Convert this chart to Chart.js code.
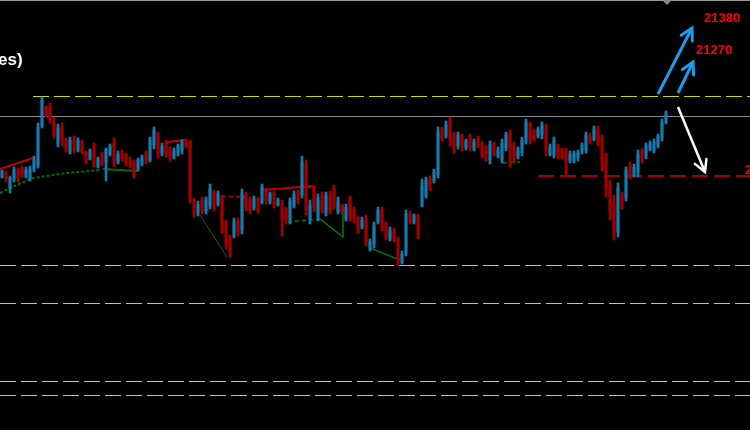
<!DOCTYPE html>
<html>
<head>
<meta charset="utf-8">
<script src="https://cdn.jsdelivr.net/npm/chart.js@4.4.1/dist/chart.umd.min.js"></script>
<style>
html, body { margin: 0; padding: 0; background: #000; overflow: hidden; }
canvas { display: block; }
</style>
</head>
<body>
<canvas id="chart" width="750" height="430"></canvas>
<script>
// candles, one per bar
const opens = [
  21046,21054,21024,21040,21060,21064,21046,21042,21060,21070,
  21148,21184,21188,21162,21112,21144,21122,21096,21120,21100,
  21114,21096,21082,21108,21068,21092,21076,21092,21116,21076,
  21096,21090,21080,21074,21062,21072,21094,21080,21110,21132,
  21092,21116,21102,21086,21092,21100,21118,21116,21000,20974,
  21000,20978,20988,21016,20992,21006,20956,20924,20928,20958,
  20940,21012,21000,20984,21002,20996,21020,20996,21014,20990,
  20994,20982,20960,20988,21016,21010,21070,20960,21022,20964,
  21010,20974,21012,21026,20976,20988,20962,21002,20982,20964,
  20946,20964,20902,20912,20956,20982,20952,20922,20938,20920,
  20876,20894,20974,20956,20968,20988,21008,21042,21038,21050,
  21142,21128,21158,21130,21108,21128,21104,21128,21102,21122,
  21112,21106,21080,21112,21088,21080,21104,21134,21110,21086,
  21094,21116,21152,21138,21128,21132,21146,21092,21090,21108,
  21100,21098,21078,21078,21084,21096,21100,21128,21122,21144,
  21126,21088,21034,20990,20936,21010,21004,21070,21050,21056,
  21098,21088,21102,21098,21108,21124,21156
]
const highs = [
  21060,21058,21048,21066,21064,21068,21066,21068,21088,21154,
  21206,21188,21194,21166,21152,21154,21124,21126,21128,21124,
  21120,21098,21102,21114,21086,21096,21104,21112,21124,21098,
  21100,21094,21086,21080,21084,21090,21098,21126,21146,21136,
  21114,21120,21106,21104,21112,21120,21122,21120,21004,20998,
  21006,21006,21032,21020,21018,21010,20960,20930,20964,20964,
  21022,21016,21006,21008,21006,21032,21024,21016,21018,21004,
  21000,20986,21004,21018,21020,21088,21080,21000,21028,21012,
  21016,21016,21018,21030,21006,20992,20992,21008,20986,20968,
  20966,20970,20922,20956,20986,20986,20956,20946,20944,20926,
  20898,20980,20978,20972,20972,21042,21046,21048,21062,21146,
  21146,21158,21166,21136,21136,21132,21122,21132,21122,21128,
  21118,21110,21118,21116,21106,21122,21136,21140,21116,21106,
  21126,21162,21156,21142,21146,21156,21152,21112,21126,21112,
  21104,21104,21098,21098,21100,21114,21136,21134,21148,21148,
  21130,21094,21040,21010,21034,21016,21066,21076,21072,21100,
  21104,21114,21118,21122,21132,21162,21178
]
const lows = [
  21044,21036,21014,21036,21036,21046,21044,21038,21056,21064,
  21144,21166,21154,21124,21106,21108,21096,21092,21094,21096,
  21092,21072,21080,21066,21064,21068,21038,21088,21066,21072,
  21078,21068,21064,21044,21058,21068,21072,21076,21102,21084,
  21088,21086,21078,21082,21088,21092,21104,20994,20966,20968,
  20972,20972,20982,20978,20988,20934,20902,20886,20924,20928,
  20932,20978,20972,20980,20974,20992,20992,20992,20984,20988,
  20928,20952,20952,20984,20992,21004,20970,20952,20976,20958,
  20974,20968,20972,20982,20972,20972,20958,20958,20954,20934,
  20942,20908,20898,20904,20952,20938,20920,20918,20916,20868,
  20872,20888,20952,20952,20922,20986,21004,21018,21034,21044,
  21118,21124,21108,21094,21102,21098,21100,21098,21098,21104,
  21084,21078,21072,21088,21084,21074,21098,21066,21074,21082,
  21088,21112,21112,21118,21124,21122,21088,21088,21084,21082,
  21082,21046,21074,21074,21078,21092,21094,21112,21118,21108,
  21058,21006,20960,20920,20926,20982,20998,21042,21046,21046,
  21074,21082,21098,21094,21104,21118,21152
]
const closes = [
  21058,21044,21044,21060,21044,21050,21060,21062,21080,21146,
  21200,21172,21160,21128,21144,21120,21100,21120,21100,21118,
  21096,21076,21098,21074,21082,21072,21100,21108,21072,21092,
  21082,21074,21068,21048,21080,21086,21076,21120,21140,21090,
  21108,21092,21084,21098,21108,21116,21108,21000,20972,20992,
  20980,21000,21024,20986,21012,20940,20908,20892,20956,20936,
  21014,20986,20978,21002,20980,21026,21000,21012,20990,21000,
  20960,20960,20998,21012,20998,21076,20980,20990,20984,21004,
  20982,21008,20980,20988,20998,20976,20986,20968,20960,20942,
  20960,20916,20916,20950,20980,20944,20924,20940,20920,20876,
  20892,20972,20958,20968,20932,21028,21040,21024,21056,21136,
  21124,21150,21120,21104,21130,21108,21118,21106,21116,21110,
  21090,21084,21112,21094,21100,21114,21130,21100,21084,21100,
  21120,21156,21120,21122,21140,21150,21100,21106,21120,21088,
  21086,21076,21092,21094,21096,21110,21130,21118,21142,21114,
  21070,21020,20976,20934,21024,20988,21060,21050,21066,21092,
  21080,21108,21112,21116,21128,21156,21174
]

// horizontal levels
const yellowLevels = [21207, 20869, 20793, 20637, 20609]
const greyLevel = 21167
const redLevel = 21048

// targets and their arrows (bar index, price)
const targetLabels = ['21380', '21270', '21050']
const arrowUpFar = [{x: 164, y: 21212}, {x: 172.5, y: 21344}]
const arrowUpNear = [{x: 169, y: 21214}, {x: 172.75, y: 21276}]
const arrowDown = [{x: 169, y: 21186}, {x: 175.75, y: 21056}]

// indicator traces
const redTrend = [{x: -0.5, y: 21062}, {x: 7.75, y: 21084}]
const greenDotted = [{x: -0.5, y: 21014}, {x: 2, y: 21024}, {x: 7.75, y: 21044}, {x: 16.25, y: 21054}, {x: 24.5, y: 21060}]
const greenFlat = [{x: 25.25, y: 21062}, {x: 33.75, y: 21058}]
const redTop1 = [{x: 41.25, y: 21116}, {x: 45.75, y: 21120}]
const redDash1 = [{x: 55, y: 21008}, {x: 60.75, y: 21006}]
const greenLeg1 = [{x: 49.5, y: 20970}, {x: 56.25, y: 20886}]
const redTop2 = [{x: 65, y: 21020}, {x: 77.75, y: 21028}]
const greenDash2 = [{x: 71.5, y: 20956}, {x: 79.5, y: 20962}]
const greenLeg2 = [{x: 79.5, y: 20962}, {x: 85.25, y: 20926}, {x: 85.25, y: 20990}]
const greenLeg3 = [{x: 92, y: 20904}, {x: 99.5, y: 20880}]
const greenDash3 = [{x: 125.25, y: 21074}, {x: 129.5, y: 21076}]

const isUp = closes.map((c, i) => c >= opens[i])

const line = (data, color, width, dash, order) => ({
  type: 'line', data, borderColor: color, borderWidth: width, borderDash: dash || [],
  pointRadius: 0, fill: false, tension: 0, order: order
})

const datasets = []
yellowLevels.forEach((v, i) => {
  datasets.push(line([{x: i === 0 ? 7.75 : -0.5, y: v}, {x: 187, y: v}], '#d6d600', 1, [16, 5], 3))
})
datasets.push(line([{x: -0.5, y: greyLevel}, {x: 187, y: greyLevel}], '#7b8796', 1, [], 3))
datasets.push(line([{x: 134, y: redLevel}, {x: 187, y: redLevel}], '#a30000', 2, [16, 6], 3))

datasets.push(line(redTrend, '#c00000', 2, [], 2))
datasets.push(line(greenDotted, '#0a6a0a', 2, [3, 2], 2))
datasets.push(line(greenFlat, '#0a6a0a', 2, [], 2))
datasets.push(line(redTop1, '#c00000', 2, [], 2))
datasets.push(line(redDash1, '#b00000', 1.5, [4, 3], 2))
datasets.push(line(greenLeg1, '#0a6a0a', 1, [], 2))
datasets.push(line(redTop2, '#c00000', 2, [], 2))
datasets.push(line(greenDash2, '#0a7a0a', 1.5, [4, 3], 2))
datasets.push(line(greenLeg2, '#0a7a0a', 1.5, [], 2))
datasets.push(line(greenLeg3, '#0a6a0a', 1.5, [], 2))
datasets.push(line(greenDash3, '#0a7a0a', 1.5, [4, 3], 2))

datasets.push({
  type: 'bar', grouped: false, order: 1, barThickness: 2,
  data: highs.map((h, i) => ({x: i, y: [lows[i], h]})),
  backgroundColor: isUp.map(u => u ? '#1a78aa' : '#a00000')
})
datasets.push({
  type: 'bar', grouped: false, order: 1, barThickness: 2,
  data: opens.map((o, i) => ({x: i, y: [o, closes[i]]})),
  backgroundColor: isUp.map(u => u ? '#22a6ea' : '#e00000')
})

const a1 = line(arrowUpFar, '#1e9ce6', 3, [], 0)
const a2 = line(arrowUpNear, '#1e9ce6', 3, [], 0)
const a3 = line(arrowDown, '#ffffff', 2.5, [], 0)
a1.arrow = a2.arrow = a3.arrow = true
datasets.push(a1, a2, a3)

const decor = {
  id: 'decor',
  beforeDraw(chart) {
    const c = chart.ctx
    c.save()
    c.fillStyle = '#000'
    c.fillRect(0, 0, chart.width, chart.height)
    c.restore()
  },
  afterDatasetsDraw(chart) {
    const c = chart.ctx
    chart.data.datasets.forEach((ds, i) => {
      if (!ds.arrow) return
      const pts = chart.getDatasetMeta(i).data
      const tail = pts[0], tip = pts[pts.length - 1]
      const ang = Math.atan2(tip.y - tail.y, tip.x - tail.x)
      const len = 13
      c.save()
      c.strokeStyle = ds.borderColor
      c.lineWidth = ds.borderWidth
      c.lineCap = 'round'
      c.beginPath()
      c.moveTo(tip.x - len * Math.cos(ang - 0.5), tip.y - len * Math.sin(ang - 0.5))
      c.lineTo(tip.x, tip.y)
      c.lineTo(tip.x - len * Math.cos(ang + 0.5), tip.y - len * Math.sin(ang + 0.5))
      c.stroke()
      c.restore()
    })
  },
  afterDraw(chart) {
    const c = chart.ctx
    const x = chart.scales.x, y = chart.scales.y
    c.save()
    // frame top edge and scroll marker
    c.strokeStyle = '#9a9a9a'
    c.lineWidth = 1
    c.beginPath()
    c.moveTo(0, 0.5)
    c.lineTo(chart.width, 0.5)
    c.stroke()
    c.fillStyle = '#8a8a8a'
    c.beginPath()
    c.moveTo(x.getPixelForValue(165), 0)
    c.lineTo(x.getPixelForValue(167.5), 0)
    c.lineTo(x.getPixelForValue(166.25), 5)
    c.closePath()
    c.fill()

    c.textBaseline = 'middle'
    c.textAlign = 'left'
    c.fillStyle = '#ff0000'
    c.font = 'bold 13px "Liberation Sans", Arial, sans-serif'
    c.fillText(targetLabels[0], x.getPixelForValue(175.5), y.getPixelForValue(21364))
    c.fillText(targetLabels[1], x.getPixelForValue(173.5), y.getPixelForValue(21300))
    c.fillText(targetLabels[2], x.getPixelForValue(185.75), y.getPixelForValue(21060))

    c.fillStyle = '#ffffff'
    c.font = 'bold 17px "Liberation Sans", Arial, sans-serif'
    c.fillText('es)', x.getPixelForValue(-1), y.getPixelForValue(21280))
    c.restore()
  }
}

const chart = new Chart(document.getElementById('chart'), {
  type: 'bar',
  data: { datasets },
  options: {
    responsive: false,
    animation: false,
    events: [],
    layout: { padding: 0 },
    plugins: { legend: { display: false }, tooltip: { enabled: false } },
    scales: {
      x: { type: 'linear', min: -0.5, max: 187, offset: false, display: false },
      y: { min: 20540, max: 21400, display: false }
    }
  },
  plugins: [decor]
})
</script>
</body>
</html>
